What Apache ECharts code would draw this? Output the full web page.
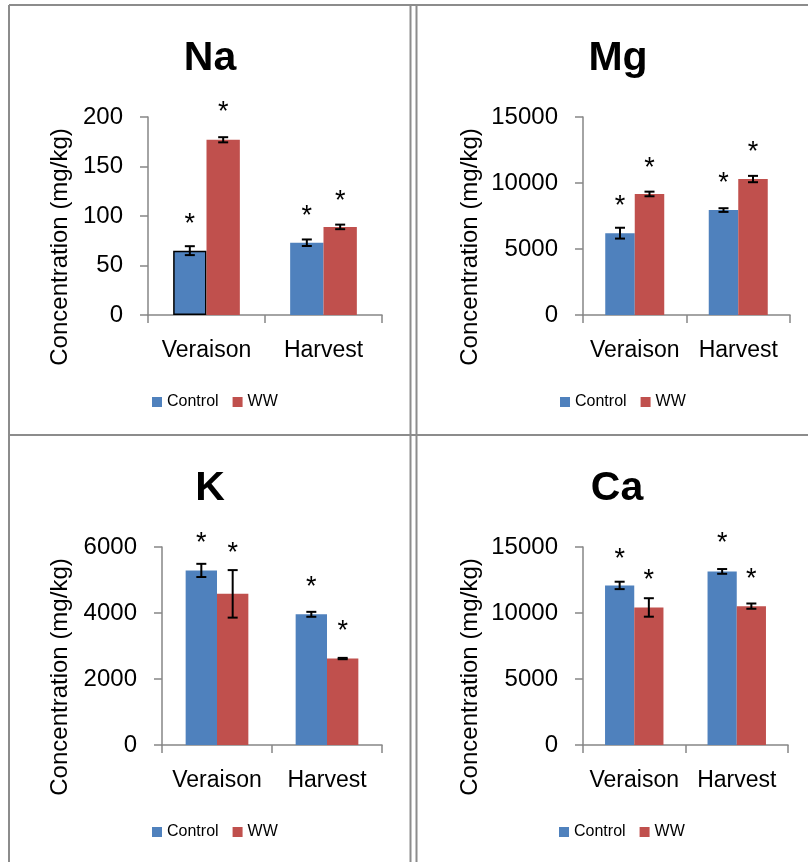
<!DOCTYPE html>
<html><head><meta charset="utf-8">
<script src="https://cdn.jsdelivr.net/npm/echarts@6/dist/echarts.min.js"></script>
<style>html,body{margin:0;padding:0;background:#fff}#c{width:808px;height:862px}</style>
</head><body><div id="c"></div>
<script>
// ---- data ----
const categories = ['Veraison', 'Harvest'];
const seriesNames = ['Control', 'WW'];
const panelTitles = ['Na', 'Mg', 'K', 'Ca'];
const yAxisTitle = 'Concentration (mg/kg)';
const yMax = [200, 15000, 6000, 15000];
const yInterval = [50, 5000, 2000, 5000];

const naControl = [65, 73],       naWW = [177, 89];
const naControlErr = [4.5, 3.3],  naWWErr = [2.6, 2.3];
const naStarControl = [97, 105],  naStarWW = [210, 121];

const mgControl = [6200, 7950],     mgWW = [9170, 10300];
const mgControlErr = [410, 140],    mgWWErr = [175, 240];
const mgStarControl = [8660, 10400], mgStarWW = [11570, 12750];

const kControl = [5290, 3960],     kWW = [4580, 2620];
const kControlErr = [200, 75],     kWWErr = [720, 20];
const kStarControl = [6290, 4940], kStarWW = [5990, 3610];

const caControl = [12090, 13150],     caWW = [10420, 10520];
const caControlErr = [280, 180],      caWWErr = [700, 200];
const caStarControl = [14490, 15680], caStarWW = [12900, 12970];

const panels = [
  {c: naControl, w: naWW, ce: naControlErr, we: naWWErr, cs: naStarControl, ws: naStarWW},
  {c: mgControl, w: mgWW, ce: mgControlErr, we: mgWWErr, cs: mgStarControl, ws: mgStarWW},
  {c: kControl,  w: kWW,  ce: kControlErr,  we: kWWErr,  cs: kStarControl,  ws: kStarWW},
  {c: caControl, w: caWW, ce: caControlErr, we: caWWErr, cs: caStarControl, ws: caStarWW}
];

// ---- layout / style ----
const FONT = 'Liberation Sans';
const BLUE = '#4F81BD', RED = '#C0504D', AXIS = '#868686', BORDER = '#8c8c8c';
const BAR_FRAC = 0.285;
const STAR_SIZE = 27;
const gridPos = [
  {left: 148, top: 117, width: 234, height: 198},
  {left: 583, top: 117, width: 207, height: 198},
  {left: 162, top: 547, width: 220, height: 198},
  {left: 583, top: 547, width: 205, height: 198}
];
const titlePos = [[210, 59], [618, 59], [210, 489], [617, 489]];
const yTitlePos = [[60, 247], [470, 247], [60, 677], [470, 677]];
const legendPos = [[152, 394], [560, 394], [152, 824], [559, 824]];

function errRender(params, api) {
  const cat = api.value(0), s = api.value(1), v = api.value(2), e = api.value(3), st = api.value(4);
  const c = api.coord([cat, v]);
  const band = api.size([1, 0])[0];
  const x = c[0] + (s === 0 ? -1 : 1) * band * BAR_FRAC / 2;
  const top = api.coord([cat, v + e])[1], bot = api.coord([cat, v - e])[1];
  const sy = api.coord([cat, st])[1];
  const cap = 5;
  const ls = {stroke: '#000', lineWidth: 2};
  return {type: 'group', children: [
    {type: 'line', shape: {x1: x, y1: top, x2: x, y2: bot}, style: ls},
    {type: 'line', shape: {x1: x - cap, y1: top, x2: x + cap, y2: top}, style: ls},
    {type: 'line', shape: {x1: x - cap, y1: bot, x2: x + cap, y2: bot}, style: ls},
    {type: 'text', x: x, y: sy + STAR_SIZE * 0.22, style: {text: '*', fontSize: STAR_SIZE, fontFamily: FONT, fill: '#000', align: 'center', verticalAlign: 'middle'}}
  ]};
}

const grid = [], xAxis = [], yAxis = [], series = [], legend = [], graphic = [];
panels.forEach((p, i) => {
  grid.push(Object.assign({containLabel: false}, gridPos[i]));
  xAxis.push({
    type: 'category', gridIndex: i, data: categories,
    axisLine: {lineStyle: {color: AXIS, width: 1.5}},
    axisTick: {show: true, length: 8, lineStyle: {color: AXIS, width: 1.5}},
    axisLabel: {color: '#000', fontSize: 23, fontFamily: FONT, margin: 24, interval: 0, hideOverlap: false}
  });
  yAxis.push({
    type: 'value', gridIndex: i, min: 0, max: yMax[i], interval: yInterval[i],
    splitLine: {show: false},
    axisLine: {show: true, lineStyle: {color: AXIS, width: 1.5}},
    axisTick: {show: true, length: 8, lineStyle: {color: AXIS, width: 1.5}},
    axisLabel: {color: '#000', fontSize: 24, fontFamily: FONT, margin: 25, formatter: v => String(v)}
  });
  series.push({
    name: seriesNames[0], type: 'bar', xAxisIndex: i, yAxisIndex: i,
    barWidth: (BAR_FRAC * 100) + '%', barGap: 0, itemStyle: {color: BLUE},
    data: p.c.map((v, k) => (i === 0 && k === 0)
      ? {value: v, itemStyle: {borderColor: '#000', borderWidth: 1.5}} : v)
  });
  series.push({
    name: seriesNames[1], type: 'bar', xAxisIndex: i, yAxisIndex: i,
    barWidth: (BAR_FRAC * 100) + '%', barGap: 0, itemStyle: {color: RED},
    data: p.w
  });
  const errData = [];
  categories.forEach((c, k) => {
    errData.push([k, 0, p.c[k], p.ce[k], p.cs[k]]);
    errData.push([k, 1, p.w[k], p.we[k], p.ws[k]]);
  });
  series.push({
    type: 'custom', xAxisIndex: i, yAxisIndex: i, renderItem: errRender,
    encode: {x: 0, y: 2}, data: errData, z: 10, clip: false, silent: true
  });
  legend.push({
    left: legendPos[i][0], top: legendPos[i][1], data: seriesNames, icon: 'rect', padding: 0,
    itemWidth: 10, itemHeight: 10, itemGap: 14, selectedMode: false,
    textStyle: {fontSize: 16, fontFamily: FONT, color: '#000'}
  });
  graphic.push({type: 'text', x: titlePos[i][0], y: titlePos[i][1],
    style: {text: panelTitles[i], fontSize: 41, fontWeight: 'bold', fontFamily: FONT, fill: '#000', align: 'center', verticalAlign: 'middle'}});
  graphic.push({type: 'text', x: yTitlePos[i][0], y: yTitlePos[i][1], rotation: Math.PI / 2,
    style: {text: yAxisTitle, fontSize: 24, fontFamily: FONT, fill: '#000', align: 'center', verticalAlign: 'middle'}});
});

// table borders
const bl = {stroke: BORDER, lineWidth: 2};
[[9, 5, 9, 862], [9, 5, 808, 5], [410.5, 5, 410.5, 862], [416.5, 5, 416.5, 862], [9, 435, 808, 435]]
  .forEach(s => graphic.push({type: 'line', shape: {x1: s[0], y1: s[1], x2: s[2], y2: s[3]}, style: bl, z: 100}));

const chart = echarts.init(document.getElementById('c'), null, {renderer: 'canvas'});
chart.setOption({animation: false, backgroundColor: '#fff', grid, xAxis, yAxis, series, legend, graphic});
</script></body></html>
